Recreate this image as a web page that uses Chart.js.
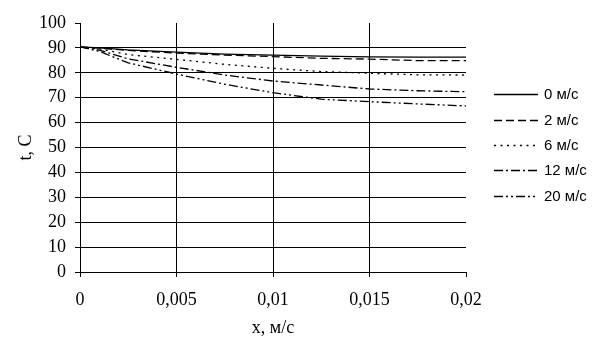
<!DOCTYPE html>
<html><head><meta charset="utf-8">
<script src="https://cdn.jsdelivr.net/npm/chart.js@4/dist/chart.umd.min.js"></script>
<style>html,body{margin:0;padding:0;background:#fff}#wrap{width:605px;height:353px}</style>
</head><body><div id="wrap"><canvas id="c" width="605" height="353"></canvas></div>
<script>
const xValues = [0, 0.001, 0.0025, 0.005, 0.0075, 0.01, 0.0125, 0.015, 0.0175, 0.02];
const seriesNames = ['0 м/с', '2 м/с', '6 м/с', '12 м/с', '20 м/с'];
const s0  = [90.4, 90.0, 89.2, 88.3, 87.5, 87.1, 86.7, 86.4, 86.3, 86.3];
const s2  = [90.4, 89.9, 89.0, 87.9, 87.1, 86.5, 85.8, 85.5, 84.9, 84.9];
const s6  = [90.4, 89.6, 87.3, 85.4, 83.4, 81.8, 80.5, 79.8, 79.2, 79.1];
const s12 = [90.4, 89.1, 85.6, 82.2, 79.1, 76.7, 75.1, 73.5, 72.8, 72.4];
const s20 = [90.4, 88.6, 84.0, 79.5, 75.4, 72.0, 69.4, 68.4, 67.5, 66.7];
const xTickLabels = ['0', '0,005', '0,01', '0,015', '0,02'];
const yTicks = [0, 10, 20, 30, 40, 50, 60, 70, 80, 90, 100];
const xTitle = 'x, м/с';
const yTitle = 't, C';

const dashes = [[], [8, 4], [2, 4.5], [9, 3, 2, 3], [9, 3, 2, 3, 2, 3]];
const allSeries = [s0, s2, s6, s12, s20];

const datasets = allSeries.map((s, i) => ({
  label: seriesNames[i],
  data: s.map((v, k) => ({x: xValues[k], y: v})),
  borderColor: '#000',
  borderWidth: 1.3,
  borderDash: dashes[i],
  pointRadius: 0,
  fill: false,
  tension: 0
}));

const legendPlugin = {
  id: 'sideLegend',
  afterDraw(chart) {
    const ctx = chart.ctx;
    const ys = [94, 120, 145, 170, 196];
    ctx.save();
    chart.data.datasets.forEach((ds, i) => {
      const y = ys[i];
      ctx.strokeStyle = '#000';
      ctx.lineWidth = 1.3;
      ctx.setLineDash(ds.borderDash || []);
      ctx.beginPath();
      ctx.moveTo(494, y + 0.5);
      ctx.lineTo(538, y + 0.5);
      ctx.stroke();
      ctx.setLineDash([]);
      ctx.fillStyle = '#000';
      ctx.font = '15px "Liberation Sans", Arial, sans-serif';
      ctx.textBaseline = 'middle';
      ctx.textAlign = 'left';
      ctx.fillText(ds.label, 544, y + 1);
    });
    ctx.restore();
  }
};

const serif = '"Liberation Serif", "Times New Roman", serif';

new Chart(document.getElementById('c'), {
  type: 'line',
  data: { datasets },
  plugins: [legendPlugin],
  options: {
    responsive: false,
    animation: false,
    devicePixelRatio: 1,
    layout: { padding: { top: 23, right: 139, left: 0, bottom: 0 } },
    plugins: { legend: { display: false }, tooltip: { enabled: false } },
    scales: {
      x: {
        type: 'linear', min: 0, max: 0.02,
        afterBuildTicks: (s) => { s.ticks = xTickLabels.map((_, i) => ({value: i * 0.005})); },
        afterFit: (s) => { s.height = 81; },
        ticks: {
          color: '#000', font: { family: serif, size: 18 }, padding: 12,
          maxRotation: 0, autoSkip: false,
          callback: (v, i) => xTickLabels[i]
        },
        grid: {
          color: (c) => (c.tick && Math.abs(c.tick.value - 0.02) < 1e-9) ? 'rgba(0,0,0,0)' : '#000',
          tickColor: '#000', tickLength: 5, lineWidth: 1
        },
        border: { color: '#000', width: 1 },
        title: { display: true, text: xTitle, color: '#000', font: { family: serif, size: 18 }, padding: { top: 0, bottom: 14 } }
      },
      y: {
        min: 0, max: 100,
        afterBuildTicks: (s) => { s.ticks = yTicks.map(v => ({value: v})); },
        afterFit: (s) => { s.width = 80; },
        ticks: { color: '#000', font: { family: serif, size: 18 }, padding: 9, autoSkip: false },
        grid: {
          color: (c) => (c.tick && c.tick.value === 100) ? 'rgba(0,0,0,0)' : '#000',
          tickColor: '#000', tickLength: 5, lineWidth: 1
        },
        border: { color: '#000', width: 1 },
        title: { display: true, text: yTitle, color: '#000', font: { family: serif, size: 18 }, padding: { top: 15, bottom: 0 } }
      }
    }
  }
});
</script></body></html>
